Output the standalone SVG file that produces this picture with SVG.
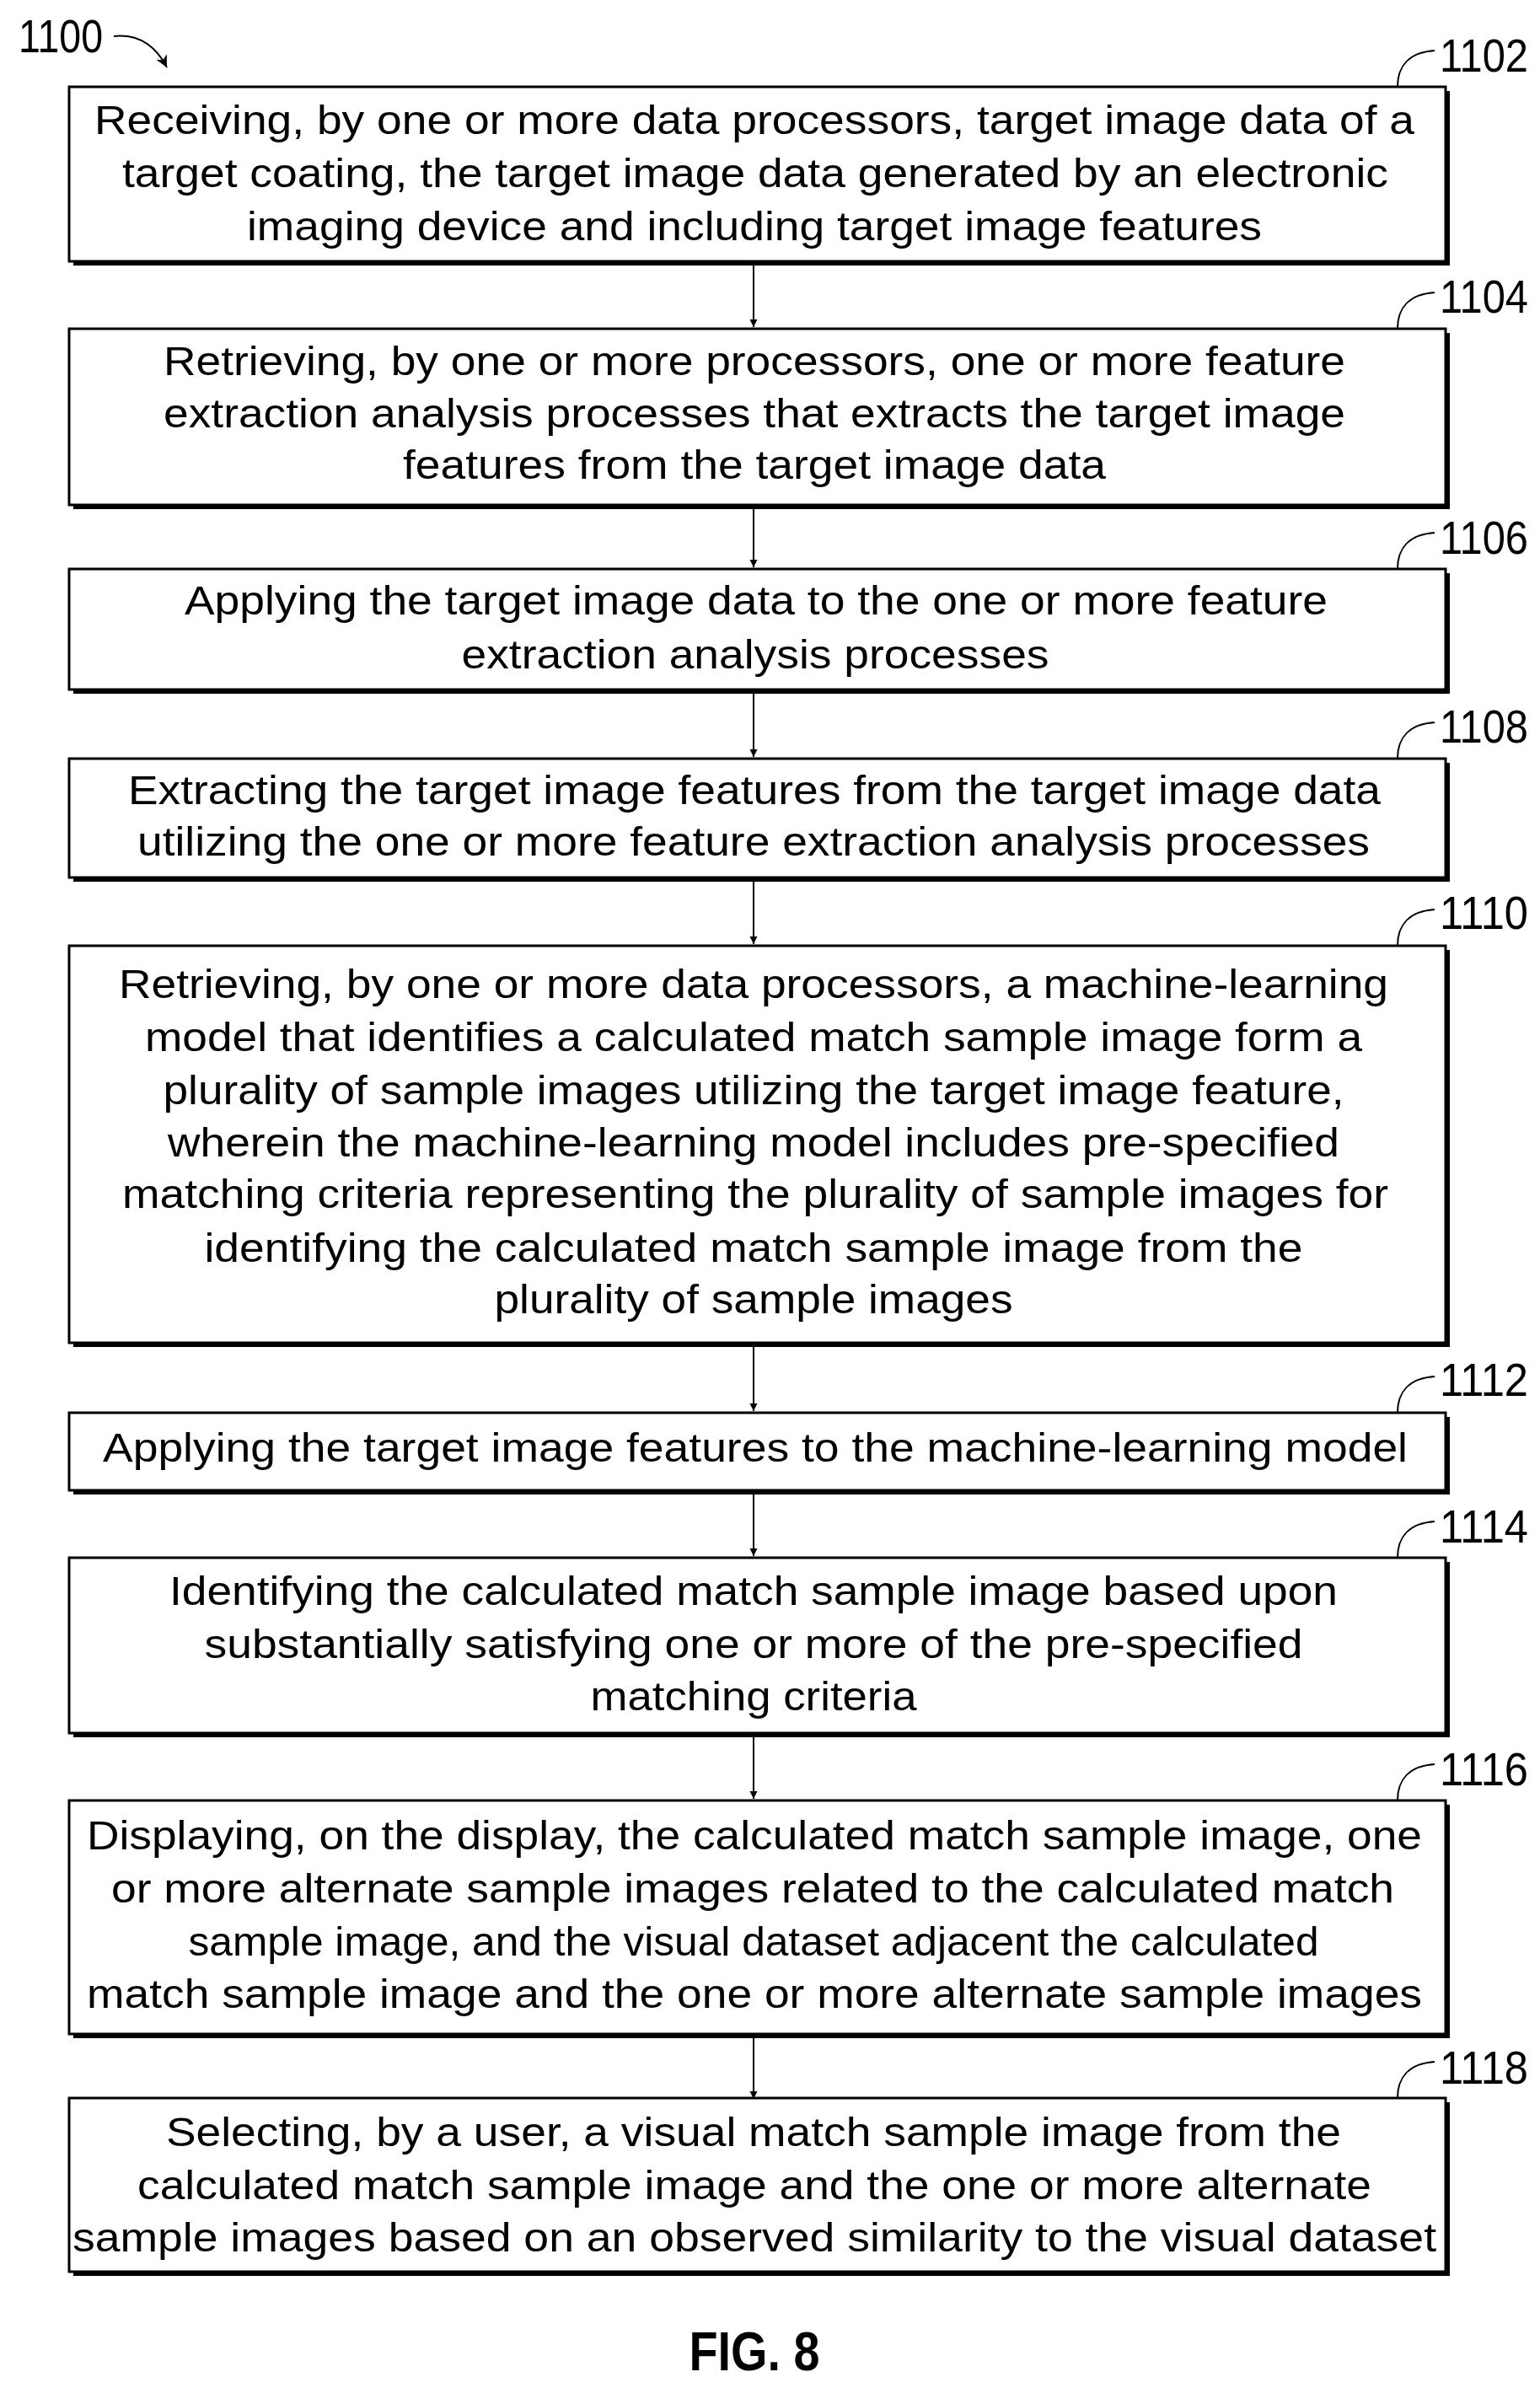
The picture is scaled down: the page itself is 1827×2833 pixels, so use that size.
<svg xmlns="http://www.w3.org/2000/svg" width="1827" height="2833" viewBox="0 0 1827 2833">
<style>
.box{fill:#fff;stroke:#000;stroke-width:3}
.sh{fill:#000}
.t{font-family:"Liberation Sans",Arial,sans-serif;font-size:48px;text-anchor:middle;fill:#000}
.lb{font-family:"Liberation Sans",Arial,sans-serif;font-size:56px;fill:#000}
.c{stroke:#000;stroke-width:2;fill:none}
</style>
<defs>
<marker id="ah" viewBox="0 0 10 10" refX="10" refY="5" markerWidth="9" markerHeight="11" markerUnits="userSpaceOnUse" orient="auto"><path d="M0,0 L10,5 L0,10 Z" fill="#000"/></marker>
<marker id="ah2" viewBox="0 0 10 10" refX="10" refY="5" markerWidth="14" markerHeight="14" markerUnits="userSpaceOnUse" orient="auto"><path d="M0,0 L10,5 L0,10 L3,5 Z" fill="#000"/></marker>
</defs>
<g id="label1100">
<text class="lb" x="22" y="62" textLength="100" lengthAdjust="spacingAndGlyphs">1100</text>
<path class="c" d="M135,43 C165,40 185,55 198,80" marker-end="url(#ah2)"/>
</g>
<g id="connectors">
<line class="c" x1="894" y1="315" x2="894" y2="388" marker-end="url(#ah)"/>
<line class="c" x1="894" y1="604" x2="894" y2="673" marker-end="url(#ah)"/>
<line class="c" x1="894" y1="823" x2="894" y2="898" marker-end="url(#ah)"/>
<line class="c" x1="894" y1="1046" x2="894" y2="1120" marker-end="url(#ah)"/>
<line class="c" x1="894" y1="1598" x2="894" y2="1674" marker-end="url(#ah)"/>
<line class="c" x1="894" y1="1773" x2="894" y2="1846" marker-end="url(#ah)"/>
<line class="c" x1="894" y1="2061" x2="894" y2="2134" marker-end="url(#ah)"/>
<line class="c" x1="894" y1="2418" x2="894" y2="2490" marker-end="url(#ah)"/>
</g>
<g id="n1102">
<rect class="sh" x="87" y="108" width="1633" height="207"/><rect class="box" x="82" y="103" width="1633" height="207"/>
<text class="t" x="895" y="159" textLength="1566" lengthAdjust="spacingAndGlyphs">Receiving, by one or more data processors, target image data of a</text>
<text class="t" x="896" y="222" textLength="1502" lengthAdjust="spacingAndGlyphs">target coating, the target image data generated by an electronic</text>
<text class="t" x="895" y="285" textLength="1204" lengthAdjust="spacingAndGlyphs">imaging device and including target image features</text>
<path class="c" d="M1658,103 C1658,78 1672,62 1702,60"/><text class="lb" x="1708" y="85" textLength="105" lengthAdjust="spacingAndGlyphs">1102</text>
</g>
<g id="n1104">
<rect class="sh" x="87" y="395" width="1633" height="209"/><rect class="box" x="82" y="390" width="1633" height="209"/>
<text class="t" x="895" y="445" textLength="1402" lengthAdjust="spacingAndGlyphs">Retrieving, by one or more processors, one or more feature</text>
<text class="t" x="895" y="507" textLength="1402" lengthAdjust="spacingAndGlyphs">extraction analysis processes that extracts the target image</text>
<text class="t" x="895" y="568" textLength="834" lengthAdjust="spacingAndGlyphs">features from the target image data</text>
<path class="c" d="M1658,390 C1658,365 1672,349 1702,347"/><text class="lb" x="1708" y="371" textLength="105" lengthAdjust="spacingAndGlyphs">1104</text>
</g>
<g id="n1106">
<rect class="sh" x="87" y="680" width="1633" height="143"/><rect class="box" x="82" y="675" width="1633" height="143"/>
<text class="t" x="897" y="729" textLength="1356" lengthAdjust="spacingAndGlyphs">Applying the target image data to the one or more feature</text>
<text class="t" x="896" y="793" textLength="697" lengthAdjust="spacingAndGlyphs">extraction analysis processes</text>
<path class="c" d="M1658,675 C1658,650 1672,634 1702,632"/><text class="lb" x="1708" y="657" textLength="105" lengthAdjust="spacingAndGlyphs">1106</text>
</g>
<g id="n1108">
<rect class="sh" x="87" y="905" width="1633" height="141"/><rect class="box" x="82" y="900" width="1633" height="141"/>
<text class="t" x="895" y="954" textLength="1486" lengthAdjust="spacingAndGlyphs">Extracting the target image features from the target image data</text>
<text class="t" x="894" y="1015" textLength="1462" lengthAdjust="spacingAndGlyphs">utilizing the one or more feature extraction analysis processes</text>
<path class="c" d="M1658,900 C1658,875 1672,859 1702,857"/><text class="lb" x="1708" y="881" textLength="105" lengthAdjust="spacingAndGlyphs">1108</text>
</g>
<g id="n1110">
<rect class="sh" x="87" y="1127" width="1633" height="471"/><rect class="box" x="82" y="1122" width="1633" height="471"/>
<text class="t" x="894" y="1184" textLength="1506" lengthAdjust="spacingAndGlyphs">Retrieving, by one or more data processors, a machine-learning</text>
<text class="t" x="894" y="1247" textLength="1444" lengthAdjust="spacingAndGlyphs">model that identifies a calculated match sample image form a</text>
<text class="t" x="894" y="1310" textLength="1401" lengthAdjust="spacingAndGlyphs">plurality of sample images utilizing the target image feature,</text>
<text class="t" x="894" y="1372" textLength="1390" lengthAdjust="spacingAndGlyphs">wherein the machine-learning model includes pre-specified</text>
<text class="t" x="896" y="1433" textLength="1502" lengthAdjust="spacingAndGlyphs">matching criteria representing the plurality of sample images for</text>
<text class="t" x="894" y="1497" textLength="1303" lengthAdjust="spacingAndGlyphs">identifying the calculated match sample image from the</text>
<text class="t" x="894" y="1558" textLength="615" lengthAdjust="spacingAndGlyphs">plurality of sample images</text>
<path class="c" d="M1658,1122 C1658,1097 1672,1081 1702,1079"/><text class="lb" x="1708" y="1102" textLength="105" lengthAdjust="spacingAndGlyphs">1110</text>
</g>
<g id="n1112">
<rect class="sh" x="87" y="1681" width="1633" height="92"/><rect class="box" x="82" y="1676" width="1633" height="92"/>
<text class="t" x="896" y="1734" textLength="1548" lengthAdjust="spacingAndGlyphs">Applying the target image features to the machine-learning model</text>
<path class="c" d="M1658,1676 C1658,1651 1672,1635 1702,1633"/><text class="lb" x="1708" y="1656" textLength="105" lengthAdjust="spacingAndGlyphs">1112</text>
</g>
<g id="n1114">
<rect class="sh" x="87" y="1853" width="1633" height="208"/><rect class="box" x="82" y="1848" width="1633" height="208"/>
<text class="t" x="894" y="1904" textLength="1386" lengthAdjust="spacingAndGlyphs">Identifying the calculated match sample image based upon</text>
<text class="t" x="894" y="1967" textLength="1303" lengthAdjust="spacingAndGlyphs">substantially satisfying one or more of the pre-specified</text>
<text class="t" x="894" y="2029" textLength="387" lengthAdjust="spacingAndGlyphs">matching criteria</text>
<path class="c" d="M1658,1848 C1658,1823 1672,1807 1702,1805"/><text class="lb" x="1708" y="1830" textLength="105" lengthAdjust="spacingAndGlyphs">1114</text>
</g>
<g id="n1116">
<rect class="sh" x="87" y="2141" width="1633" height="277"/><rect class="box" x="82" y="2136" width="1633" height="277"/>
<text class="t" x="895" y="2194" textLength="1584" lengthAdjust="spacingAndGlyphs">Displaying, on the display, the calculated match sample image, one</text>
<text class="t" x="893" y="2257" textLength="1522" lengthAdjust="spacingAndGlyphs">or more alternate sample images related to the calculated match</text>
<text class="t" x="894" y="2320" textLength="1341" lengthAdjust="spacingAndGlyphs">sample image, and the visual dataset adjacent the calculated</text>
<text class="t" x="895" y="2382" textLength="1584" lengthAdjust="spacingAndGlyphs">match sample image and the one or more alternate sample images</text>
<path class="c" d="M1658,2136 C1658,2111 1672,2095 1702,2093"/><text class="lb" x="1708" y="2118" textLength="105" lengthAdjust="spacingAndGlyphs">1116</text>
</g>
<g id="n1118">
<rect class="sh" x="87" y="2494" width="1633" height="206"/><rect class="box" x="82" y="2489" width="1633" height="206"/>
<text class="t" x="894" y="2546" textLength="1394" lengthAdjust="spacingAndGlyphs">Selecting, by a user, a visual match sample image from the</text>
<text class="t" x="895" y="2609" textLength="1464" lengthAdjust="spacingAndGlyphs">calculated match sample image and the one or more alternate</text>
<text class="t" x="895" y="2671" textLength="1618" lengthAdjust="spacingAndGlyphs">sample images based on an observed similarity to the visual dataset</text>
<path class="c" d="M1658,2489 C1658,2464 1672,2448 1702,2446"/><text class="lb" x="1708" y="2472" textLength="105" lengthAdjust="spacingAndGlyphs">1118</text>
</g>
<text x="895" y="2812" font-family="Liberation Sans,Arial,sans-serif" font-size="64" font-weight="bold" text-anchor="middle" textLength="155" lengthAdjust="spacingAndGlyphs">FIG. 8</text>
</svg>
